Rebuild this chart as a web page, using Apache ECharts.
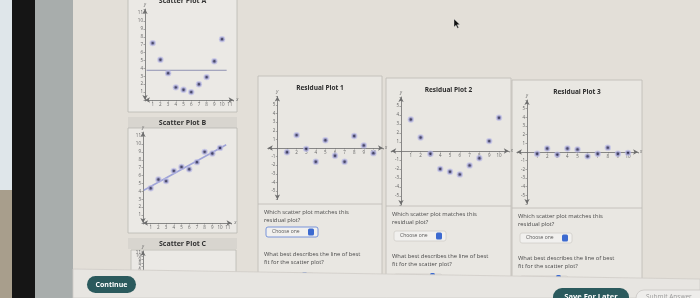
<!DOCTYPE html>
<html lang="en">
<head>
<meta charset="UTF-8">
<script src="https://cdn.jsdelivr.net/npm/echarts@6/dist/echarts.min.js"></script>
<title>Residual plots</title>
<style>html,body{margin:0;padding:0;background:#e3dfd8;} #main{width:700px;height:298px;}</style>
</head>
<body>
<div id="main"></div>
<script type="text/javascript">
// values
var xs = [1, 2, 3, 4, 5, 6, 7, 8, 9, 10];
var scatterA = [7.2, 5.1, 3.4, 1.6, 1.3, 1.0, 2.0, 2.9, 4.9, 7.7];
var fitAX = [0.2, 10.6];
var fitAY = [3.76, 3.76];
var scatterB = [4.4, 5.5, 5.3, 6.6, 7.1, 6.8, 7.7, 9.0, 8.8, 9.5];
var fitBX = [0.1, 10.8];
var fitBY = [4.15, 9.9];
var resid1 = [-0.5, 1.5, -0.1, -1.6, 0.9, -0.9, -1.6, 1.4, 0.3, -0.6];
var resid2 = [3.5, 1.5, -0.3, -2.0, -2.3, -2.6, -1.6, -0.8, 1.1, 3.7];
var resid3 = [-0.2, 0.4, -0.3, 0.4, 0.3, -0.5, -0.2, 0.5, -0.2, -0.1];
var scatterTitles = ['Scatter Plot A', 'Scatter Plot B', 'Scatter Plot C'];
var residTitles = ['Residual Plot 1', 'Residual Plot 2', 'Residual Plot 3'];
var q1 = 'Which scatter plot matches this\nresidual plot?';
var q2 = 'What best describes the line of best\nfit for the scatter plot?';

var FONT = '"Open Sans", "DejaVu Sans", sans-serif';
var myChart = echarts.init(document.getElementById('main'));

function pts(arr) {
    return xs.map(function (x, i) { return [x, arr[i]]; });
}
function seg(px, py) {
    return [[px[0], py[0]], [px[1], py[1]]];
}

function mkAxis(gi, min, max, fmt, name, pos, offset) {
    return {
        type: 'value', gridIndex: gi, min: min, max: max, interval: 1,
        position: pos, offset: offset || 0,
        name: name, nameGap: 2,
        nameTextStyle: { fontSize: 4.5, color: '#666', fontStyle: 'italic' },
        axisLine: { onZero: false, symbol: ['arrow', 'arrow'], symbolSize: [4, 5],
            lineStyle: { color: '#6d6d6d', width: 0.8 } },
        axisTick: { show: true, length: 1.5, inside: false, lineStyle: { color: '#777', width: 0.6 } },
        axisLabel: { fontSize: 4.5, color: '#666', margin: 2, formatter: fmt, fontFamily: FONT },
        splitLine: { show: false }
    };
}
var scatFmt = function (v) { return (v > 0 && v <= 11 && v % 1 === 0) ? v : ''; };
var resXFmt = function (v) { return (v >= 1 && v <= 10 && v % 1 === 0) ? v : ''; };
var resYFmt = function (v) { return (v !== 0 && Math.abs(v) <= 5 && v % 1 === 0) ? v : ''; };

var grids = [
    { left: 145, top: 9.1, width: 88.6, height: 90.9 },
    { left: 143, top: 132.1, width: 88.6, height: 90.9 },
    { left: 143, top: 251, width: 88.6, height: 90.9 },
    { left: 267.8, top: 96.4, width: 115.2, height: 103.2 },
    { left: 391.2, top: 97, width: 117.6, height: 108 },
    { left: 516.9, top: 100, width: 121.2, height: 104 }
];

var xAxes = [], yAxes = [];
for (var g = 0; g < 3; g++) {
    xAxes.push(mkAxis(g, 0, 11.5, scatFmt, 'x', 'bottom', 0));
    yAxes.push(mkAxis(g, 0, 11.5, scatFmt, 'y', 'left', 0));
}
for (var r = 3; r < 6; r++) {
    // residual axes cross at (0, 0): shift them into the middle of the grid
    xAxes.push(mkAxis(r, -1, 11, resXFmt, 'x', 'bottom', -grids[r].height / 2));
    yAxes.push(mkAxis(r, -6, 6, resYFmt, 'y', 'left', -grids[r].width / 12));
}

var dotStyle = { color: '#20204a', borderColor: 'rgba(186,186,232,0.85)', borderWidth: 2 };
function dots(gi, arr) {
    return { type: 'scatter', xAxisIndex: gi, yAxisIndex: gi, data: pts(arr),
        symbolSize: 4.4, itemStyle: dotStyle, z: 5, silent: true };
}
function fit(gi, data, color, w) {
    return { type: 'line', xAxisIndex: gi, yAxisIndex: gi, data: data, symbol: 'none',
        lineStyle: { color: color, width: w }, z: 4, silent: true };
}

var series = [
    fit(0, seg(fitAX, fitAY), '#8f92b3', 1),
    dots(0, scatterA),
    fit(1, seg(fitBX, fitBY), '#a0a5d8', 1.6),
    dots(1, scatterB),
    dots(3, resid1),
    dots(4, resid2),
    dots(5, resid3)
];

// page furniture
var els = [];
function box(x, y, w, h, fill, stroke, z, rr) {
    els.push({ type: 'rect', z: z, shape: { x: x, y: y, width: w, height: h, r: rr || 0 },
        style: { fill: fill, stroke: stroke || null, lineWidth: stroke ? 0.8 : 0 } });
}
function txt(x, y, s, size, color, weight, align, base) {
    els.push({ type: 'text', z: 10, x: x, y: y,
        style: { text: s, fontSize: size, fill: color, fontWeight: weight || 'normal',
            fontFamily: FONT, align: align || 'left', verticalAlign: base || 'top', lineHeight: size + 2.3 } });
}
function hline(x1, x2, y, color, z) {
    els.push({ type: 'line', z: z, shape: { x1: x1, y1: y, x2: x2, y2: y }, style: { stroke: color, lineWidth: 0.8 } });
}

// photo edge on the left
box(0, 0, 12, 190, '#dfe6ea', null, -5);
box(0, 190, 12, 108, '#a89e8c', null, -5);
box(12, 0, 23, 298, '#151515', null, -5);
box(35, 0, 38, 298, '#a8adac', null, -5);

// scatter plot column
box(128, -3, 109, 115, '#ebe9e5', '#b9b7b2', -4);
txt(182.5, -4, scatterTitles[0], 7, '#333', 'bold', 'center');
box(128, 117, 109, 11, '#d8d5cf', null, -4);
txt(182.5, 122.5, scatterTitles[1], 7, '#333', 'bold', 'center', 'middle');
box(128, 128, 109, 105, '#ebe9e5', '#b9b7b2', -4);
box(128, 238, 109, 11, '#d8d5cf', null, -4);
txt(182.5, 243.5, scatterTitles[2], 7, '#333', 'bold', 'center', 'middle');
box(131, 250, 105, 40, '#ebe9e5', '#b9b7b2', -4);

// residual plot panels
var panels = [
    { x: 258, y: 76, w: 124, div: 204, ddy: 227, q2y: 250, bdy: 273, focus: true },
    { x: 386, y: 78, w: 125, div: 206, ddy: 231, q2y: 252, bdy: 274, focus: false },
    { x: 512, y: 80, w: 130, div: 208, ddy: 233, q2y: 254, bdy: 276, focus: false }
];
panels.forEach(function (p, i) {
    box(p.x, p.y, p.w, 220, '#e9e7e2', '#bdbab5', -4);
    hline(p.x, p.x + p.w, p.div, '#bdbab5', -3);
    txt(p.x + p.w / 2, p.y + 12, residTitles[i], 6.5, '#2b2b2b', 'bold', 'center', 'middle');
    txt(p.x + 6, p.div + 4, q1, 5.8, '#484848');
    box(p.x + 8, p.ddy, 52, 10, '#f1f0ee', p.focus ? '#5a7fd6' : '#d0cec9', 1, 2);
    txt(p.x + 14, p.ddy + 5, 'Choose one', 5, '#5a5a5a', 'normal', 'left', 'middle');
    box(p.x + 50, p.ddy + 1.5, 6, 7, '#3c6ad0', null, 2, 1.5);
    txt(p.x + 6, p.q2y, q2, 5.8, '#484848');
    box(p.x + 8, p.bdy, 48, 10, '#f1f0ee', '#d0cec9', 1, 2);
    box(p.x + 44, p.bdy - 1, 5, 6, '#3c6ad0', null, 2, 1.5);
});

// bottom bar and buttons
els.push({ type: 'polygon', z: 100, shape: { points: [[73, 269], [700, 279], [700, 298], [73, 298]] },
    style: { fill: '#e7e5e1', stroke: '#cfccc6', lineWidth: 0.8 } });
els.push({ type: 'rect', z: 101, shape: { x: 87, y: 276, width: 49, height: 17, r: 8.5 }, style: { fill: '#2b5a5d' } });
els.push({ type: 'text', z: 102, x: 111.5, y: 284.5, style: { text: 'Continue', fontSize: 7, fontWeight: 'bold',
    fill: '#fff', fontFamily: FONT, align: 'center', verticalAlign: 'middle' } });
els.push({ type: 'rect', z: 101, shape: { x: 553, y: 288, width: 76, height: 20, r: 9 }, style: { fill: '#2b5a5d' } });
els.push({ type: 'text', z: 102, x: 591, y: 297, style: { text: 'Save For Later', fontSize: 7.5, fontWeight: 'bold',
    fill: '#fff', fontFamily: FONT, align: 'center', verticalAlign: 'middle' } });
els.push({ type: 'rect', z: 101, shape: { x: 636, y: 290, width: 80, height: 18, r: 8 },
    style: { fill: '#eeedeb', stroke: '#c9c7c3', lineWidth: 0.8 } });
els.push({ type: 'text', z: 102, x: 646, y: 297.5, style: { text: 'Submit Answer', fontSize: 6.5,
    fill: '#9a9a9a', fontFamily: FONT, align: 'left', verticalAlign: 'middle' } });

// mouse pointer
els.push({ type: 'polygon', z: 103, shape: { points: [[454, 19], [454, 27], [456, 25.2], [457.5, 28.3], [458.7, 27.8], [457.2, 24.7], [459.8, 24.6]] },
    style: { fill: '#111', stroke: '#ddd', lineWidth: 0.4 } });

option = {
    backgroundColor: '#e3dfd8',
    animation: false,
    textStyle: { fontFamily: FONT },
    grid: grids,
    xAxis: xAxes,
    yAxis: yAxes,
    series: series,
    graphic: { elements: els }
};
myChart.setOption(option);
</script>
</body>
</html>
